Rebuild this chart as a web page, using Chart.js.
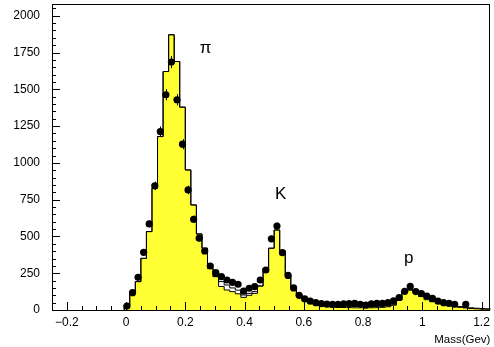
<!DOCTYPE html>
<html><head><meta charset="utf-8">
<script src="https://cdn.jsdelivr.net/npm/chart.js@4/dist/chart.umd.min.js"></script>
<style>html,body{margin:0;padding:0;background:#fff;overflow:hidden}#wrap{width:494px;height:347px;position:relative}</style>
</head><body><div id="wrap"><canvas id="c" width="494" height="347" style="width:494px;height:347px"></canvas></div>
<script>
// bin low edges (GeV), last entry is the upper edge of the final bin
const binEdges = [-0.00625,0.0125,0.03125,0.05,0.06875,0.0875,0.10625,0.125,0.14375,0.1625,0.18125,0.2,0.21875,0.2375,0.25625,0.275,0.29375,0.3125,0.33125,0.35,0.36875,0.3875,0.40625,0.425,0.44375,0.4625,0.48125,0.5,0.51875,0.5375,0.55625,0.575,0.59375,0.6125,0.63125,0.65,0.66875,0.6875,0.70625,0.725,0.74375,0.7625,0.78125,0.8,0.81875,0.8375,0.85625,0.875,0.89375,0.9125,0.93125,0.95,0.96875,0.9875,1.00625,1.025,1.04375,1.0625,1.08125,1.1,1.11875,1.1375,1.15625,1.175,1.19375,1.2125,1.23125,1.25];
// yellow filled histogram
const simFilled = [34,113,193,351,533,828,1179,1621,1871,1689,1379,952,714,517,420,283,227,160,136,125,110,86,100,113,163,283,420,544,401,240,148,90,68,52,39,27,23,20,18,17,16,15,15,14,15,16,18,22,34,68,125,136,125,91,70,56,56,40,30,22,18,14,10,8,6,5,4];
// open (outline) histogram
const simTotal = [34,113,193,351,533,828,1179,1621,1871,1689,1379,952,714,517,420,283,227,193,170,150,135,102,113,125,163,283,420,544,401,240,160,105,80,60,48,37,32,29,27,26,25,24,24,23,24,25,27,30,34,68,125,136,125,100,80,65,62,48,37,29,24,19,15,12,10,8,6];
// measured points: bin centres, counts, errors
const dataMass = [0.0031,0.0219,0.0406,0.0594,0.0781,0.0969,0.1156,0.1344,0.1531,0.1719,0.1906,0.2094,0.2281,0.2469,0.2656,0.2844,0.3031,0.3219,0.3406,0.3594,0.3781,0.3969,0.4156,0.4344,0.4531,0.4719,0.4906,0.5094,0.5281,0.5469,0.5656,0.5844,0.6031,0.6219,0.6406,0.6594,0.6781,0.6969,0.7156,0.7344,0.7531,0.7719,0.7906,0.8094,0.8281,0.8469,0.8656,0.8844,0.9031,0.9219,0.9406,0.9594,0.9781,0.9969,1.0156,1.0344,1.0531,1.0719,1.0906,1.1094,1.1281,1.1469];
const dataCounts = [27,118,222,392,585,844,1213,1463,1685,1429,1127,816,617,488,401,299,254,227,204,188,175,129,148,159,204,272,484,571,390,235,150,100,75,60,50,44,40,38,38,42,44,45,39,34,41,45,45,50,62,85,127,160,125,112,95,79,60,50,45,39,null,39];
const dataErr = [5,11,15,20,24,29,35,38,41,38,34,29,25,22,20,17,16,15,14,14,13,11,12,13,14,16,22,24,20,15,12,10,9,8,7,7,6,6,6,6,7,7,6,6,6,7,7,7,8,9,11,13,11,11,10,9,8,7,7,6,0,6];
const xTickLabels = [-0.2,0,0.2,0.4,0.6,0.8,1,1.2];
const yTickLabels = [0,250,500,750,1000,1250,1500,1750,2000];
const peakNames = ['\u03c0','K','p'];
const peakMass = [0.269,0.522,0.954];
const peakCount = [1750,753,322];

function histPoints(vals){
  const pts=[{x:binEdges[0],y:0}];
  vals.forEach((v,i)=>pts.push({x:binEdges[i],y:v}));
  pts.push({x:binEdges[vals.length],y:vals[vals.length-1]});
  return pts;
}
const dotPoints = dataMass.map((m,i)=>({x:m,y:dataCounts[i]})).filter(p=>p.y!==null);

const decor = {
  id:'decor',
  afterDatasetsDraw(chart){
    const {ctx,chartArea:a,scales:{x,y}} = chart;
    ctx.save();
    ctx.strokeStyle='#000';ctx.lineWidth=1;
    dataMass.forEach((m,i)=>{
      const c=dataCounts[i]; if(c===null) return;
      const px=Math.round(x.getPixelForValue(m))+0.5;
      ctx.beginPath();ctx.moveTo(px,y.getPixelForValue(c+dataErr[i]));ctx.lineTo(px,y.getPixelForValue(c-dataErr[i]));ctx.stroke();
    });
    ctx.fillStyle='#000';ctx.font='17px "Liberation Sans", Arial, sans-serif';ctx.textAlign='center';ctx.textBaseline='alphabetic';
    peakNames.forEach((t,i)=>ctx.fillText(t,x.getPixelForValue(peakMass[i]),y.getPixelForValue(peakCount[i])));
    ctx.strokeStyle='#000';ctx.lineWidth=1;
    ctx.strokeRect(Math.round(a.left)+0.5,Math.round(a.top)+0.5,Math.round(a.right-a.left)-1,Math.round(a.bottom-a.top));
    ctx.beginPath();
    for(let k=-5;k<=24;k++){
      const v=k*0.05; if(v<x.min-1e-9||v>x.max+1e-9) continue;
      const px=Math.round(x.getPixelForValue(v))+0.5;
      const major=(k%4===0);
      ctx.moveTo(px,a.bottom);ctx.lineTo(px,a.bottom-(major?8:4));
    }
    for(let k=0;k<=41;k++){
      const v=k*50; if(v>y.max) continue;
      const py=Math.round(y.getPixelForValue(v))+0.5;
      const major=(k%5===0);
      ctx.moveTo(a.left,py);ctx.lineTo(a.left+(major?8:4),py);
    }
    ctx.stroke();
    ctx.restore();
  }
};

new Chart(document.getElementById('c'),{
  data:{datasets:[
    {type:'scatter',data:dotPoints,pointRadius:3.6,pointHoverRadius:3.6,pointBackgroundColor:'#000',pointBorderColor:'#000',pointBorderWidth:0,order:0},
    {type:'line',data:histPoints(simTotal),stepped:'before',fill:false,borderColor:'#000',borderWidth:1,pointRadius:0,order:1},
    {type:'line',data:histPoints(simFilled),stepped:'before',fill:'origin',backgroundColor:'#ffff33',borderColor:'#000',borderWidth:1,pointRadius:0,order:2}
  ]},
  options:{
    responsive:false,animation:false,devicePixelRatio:1,
    layout:{padding:{top:4,right:2,left:0,bottom:0}},
    plugins:{legend:{display:false},tooltip:{enabled:false}},
    scales:{
      x:{type:'linear',min:-0.25,max:1.23,
        afterBuildTicks:s=>{s.ticks=xTickLabels.map(v=>({value:v}));},
        afterFit:s=>{s.height=37;s.paddingLeft=0;s.paddingRight=0;s.paddingTop=0;s.paddingBottom=0;},
        grid:{display:false,drawTicks:false},border:{display:false},
        ticks:{padding:5,color:'#000',maxRotation:0,autoSkip:false,font:{family:'"Liberation Sans", Arial, sans-serif',size:12},
          callback:v=>(v<0?'\u2212':'')+String(Math.abs(Math.round(v*10)/10))},
        title:{display:true,text:'Mass(Gev)',align:'end',color:'#000',padding:{top:2,bottom:0},font:{family:'"Liberation Sans", Arial, sans-serif',size:11.5}}
      },
      y:{type:'linear',min:0,max:2080,
        afterBuildTicks:s=>{s.ticks=yTickLabels.map(v=>({value:v}));},
        afterFit:s=>{s.width=52;s.paddingLeft=0;s.paddingRight=0;s.paddingTop=0;s.paddingBottom=0;},
        grid:{display:false,drawTicks:false},border:{display:false},
        ticks:{padding:12,color:'#000',autoSkip:false,font:{family:'"Liberation Sans", Arial, sans-serif',size:12},callback:v=>String(v)}
      }
    }
  },
  plugins:[decor]
});
</script></body></html>
